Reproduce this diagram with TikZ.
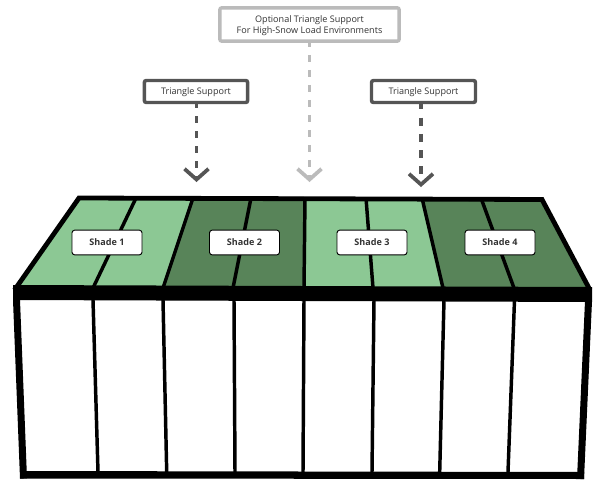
\documentclass[tikz,border=0pt]{standalone}
\usepackage{fontspec}
\setmainfont{Open Sans}
\usetikzlibrary{arrows.meta}
\definecolor{shadelight}{HTML}{8CC894}
\definecolor{shadedark}{HTML}{588459}
\definecolor{supportdark}{HTML}{555555}
\definecolor{supportlight}{HTML}{BBBBBB}
\definecolor{labeltext}{HTML}{333333}
\tikzset{
supportbox/.style={draw=supportdark,line width=2.6pt,rounded corners=1.5pt,fill=white,text=labeltext,font=\fontsize{6.8}{8.6}\selectfont,align=center,minimum height=16.5pt,inner sep=0pt},
shadebox/.style={draw=black,line width=0.7pt,rounded corners=2pt,fill=white,text=labeltext,font=\fontsize{6.8}{8}\selectfont\bfseries,minimum width=52.5pt,minimum height=18.5pt,inner sep=0pt,text height=5pt,text depth=0pt},
supportline/.style={draw=supportdark,line width=2.8pt,dash pattern=on 5.25pt off 6pt,dash phase=2.25pt,-{Straight Barb[length=8pt,width=18pt,line width=2.8pt]}},
panel/.style={draw=black,line width=2.6pt},
post/.style={draw=black,line width=2.6pt}
}
\begin{document}
\begin{tikzpicture}[x=0.75pt,y=-0.75pt]
\useasboundingbox (0,0) rectangle (593,479);
% shades
\fill[shadelight] (18,288) -- (79,198) -- (193,198) -- (163,288) -- cycle;
\fill[shadedark] (163,288) -- (193,198) -- (305,198) -- (304,288) -- cycle;
\fill[shadelight] (304,288) -- (305,198) -- (422,198) -- (443,288) -- cycle;
\fill[shadedark] (443,288) -- (422,198) -- (542,198) -- (589,288) -- cycle;
\draw[panel] (136,198) -- (93,288);
\draw[panel] (193,198) -- (163,288);
\draw[panel] (251,198) -- (233,288);
\draw[panel] (305,198) -- (304,288);
\draw[panel] (366,198) -- (373,288);
\draw[panel] (422,198) -- (443,288);
\draw[panel] (481,198) -- (514,288);
% roof and frame
\draw[black,line width=3.6pt] (14.5,290) -- (79,198) -- (542,199.5) -- (590,290);
\draw[black,line width=2.6pt] (79,198) -- (542,199.5);
\fill[black] (13,285) -- (592,287) -- (592,302) -- (13,300) -- cycle;
\draw[black,line width=5.25pt] (16.5,300) -- (23.5,478.5);
\draw[black,line width=5.25pt] (588.5,301) -- (580.5,479);
\fill[black] (20,471) -- (584,472) -- (584,479) -- (20,478.5) -- cycle;
\draw[post] (93,300) -- (98,472);
\draw[post] (163,300) -- (166.7,472);
\draw[post] (234,300) -- (235,472);
\draw[post] (304,300) -- (303,472);
\draw[post] (374,300) -- (372,472);
\draw[post] (444,300) -- (439.7,472);
\draw[post] (514.5,300) -- (508,472);
% labels
\node[shadebox] (shade1) at (107,242.5) {Shade 1};
\node[shadebox] (shade2) at (244.5,242.5) {Shade 2};
\node[shadebox] (shade3) at (372,242.5) {Shade 3};
\node[shadebox] (shade4) at (500,242.5) {Shade 4};
\node[supportbox,minimum width=77.5pt,text height=5.2pt,text depth=0pt] (support1) at (196,91.5) {Triangle Support};
\node[supportbox,minimum width=78pt,text height=5.2pt,text depth=0pt] (support2) at (423.5,91.5) {Triangle Support};
\node[supportbox,draw=supportlight,minimum width=134.5pt,minimum height=25pt] (support3) at (309.5,24.5) {\rule{0pt}{6.5pt}Optional Triangle Support\\For High-Snow Load Environments};
% arrows
\coordinate (tip1) at (196.5,182);
\coordinate (tip2) at (421,187);
\coordinate (tip3) at (309.5,182);
\draw[supportline] (support1.south -| tip1) -- (tip1);
\draw[supportline,dash pattern=on 6pt off 6.2pt] (support2.south -| tip2) -- (tip2);
\draw[supportline,draw=supportlight] (support3.south) -- (tip3);
\end{tikzpicture}
\end{document}
